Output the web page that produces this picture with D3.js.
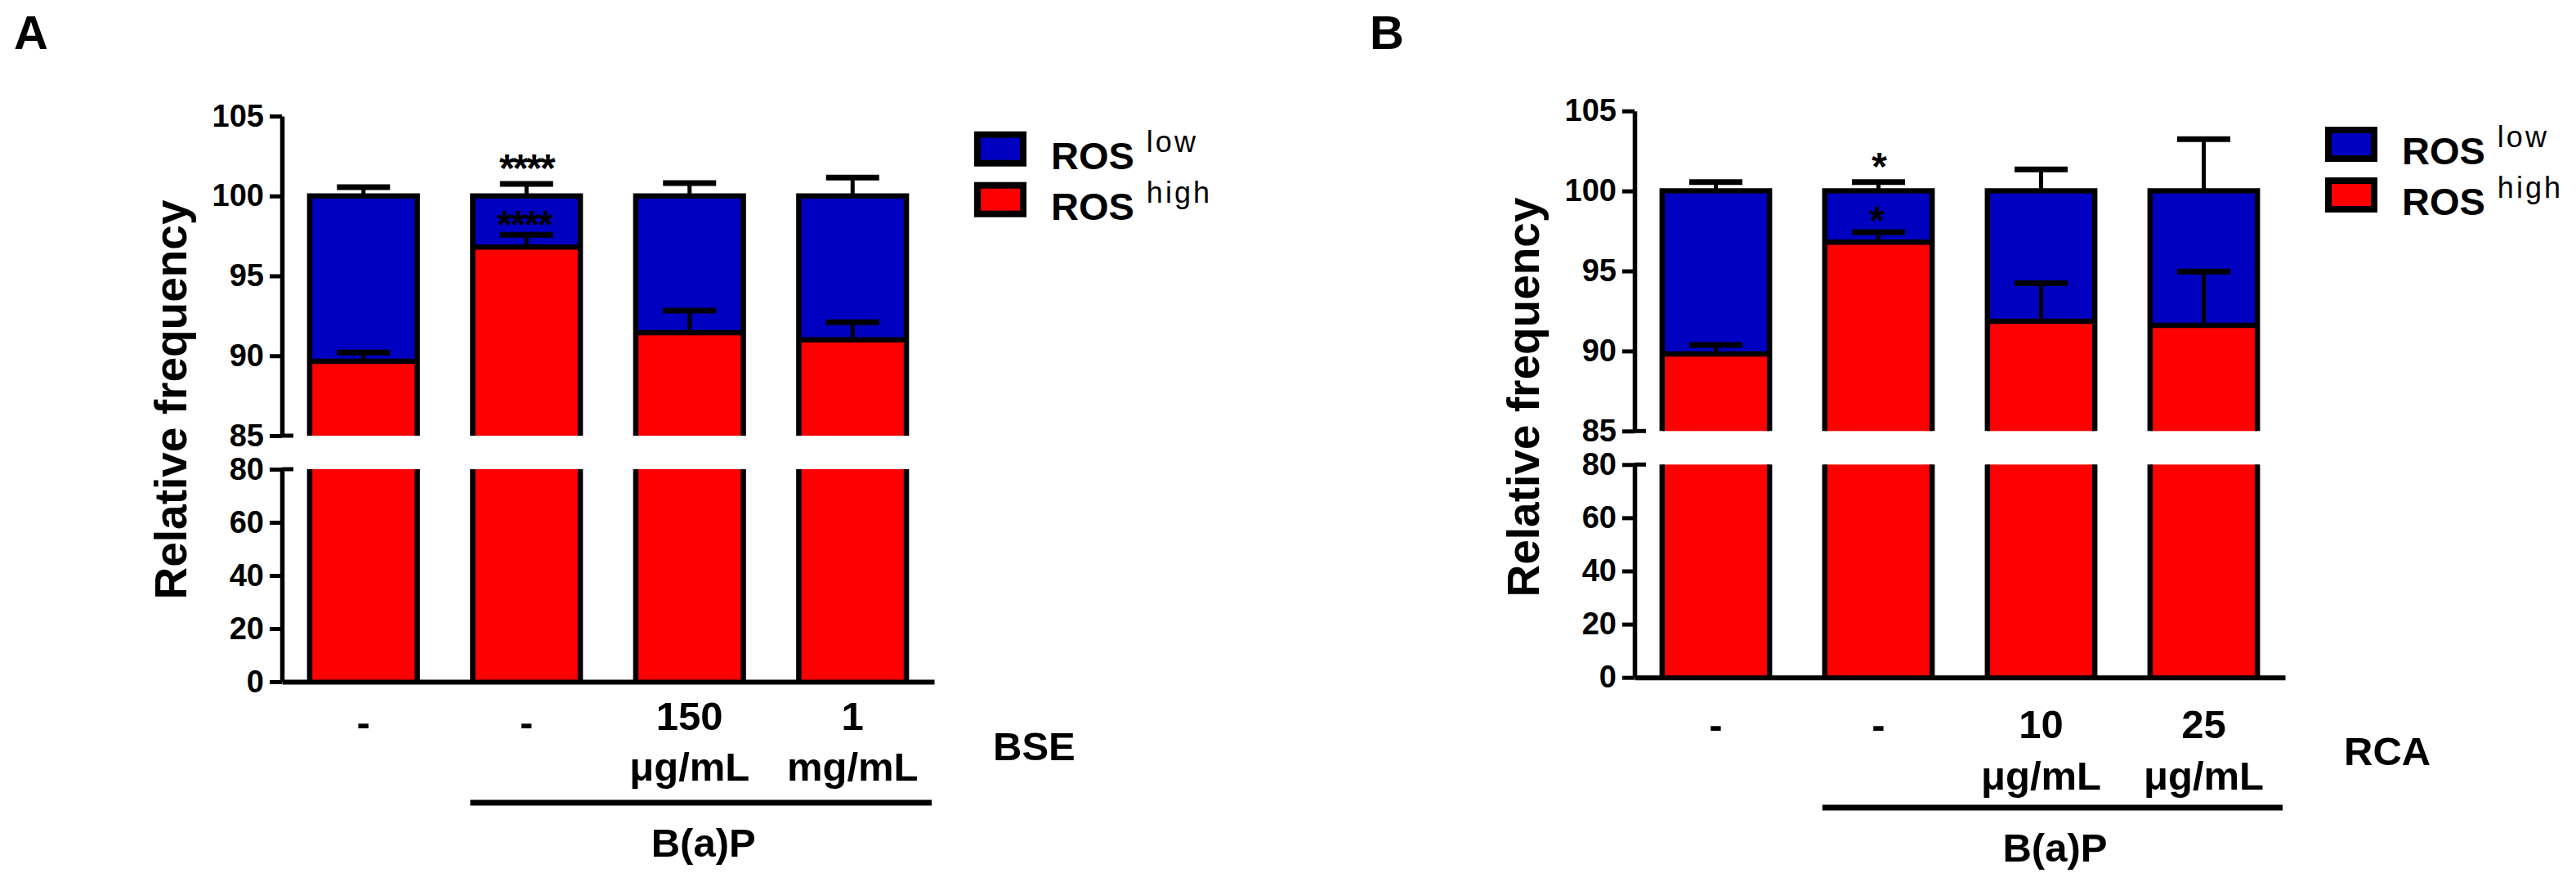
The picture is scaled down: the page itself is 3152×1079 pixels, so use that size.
<!DOCTYPE html>
<html>
<head>
<meta charset="utf-8">
<script src="https://cdn.jsdelivr.net/npm/d3@7"></script>
<style>
  body { margin: 0; background: #fff; }
  text { font-family: "Liberation Sans", Arial, sans-serif; font-weight: bold; fill: #000; }
</style>
</head>
<body>
<svg id="fig" width="3152" height="1079"></svg>
<script>
// Relative frequency (%) of ROS high / ROS low cells
const doseTopA = ["-", "-", "150", "1"]
const doseBottomA = ["", "", "μg/mL", "mg/mL"]
const rosHighA = [89.65, 96.8, 91.45, 91.0]
const rosHighErrA = [0.55, 0.77, 1.38, 1.1]
const rosLowErrA = [0.55, 0.75, 0.8, 1.15]
const starsAboveA = ["", "****", "", ""]
const starsInsideA = ["", "****", "", ""]

const doseTopB = ["-", "-", "10", "25"]
const doseBottomB = ["", "", "μg/mL", "μg/mL"]
const rosHighB = [89.82, 96.8, 91.86, 91.6]
const rosHighErrB = [0.56, 0.63, 2.38, 3.36]
const rosLowErrB = [0.55, 0.55, 1.34, 3.23]
const starsAboveB = ["", "*", "", ""]
const starsInsideB = ["", "*", "", ""]

const upperTicks = [85, 90, 95, 100, 105]
const lowerTicks = [0, 20, 40, 60, 80]
const seriesNames = ["low", "high"]
const seriesColours = ["#0000c0", "#ff0000"]

const svg = d3.select('#fig')

function styleAxis(sel) {
  sel.select('.domain').attr('stroke-width', 5.5)
  sel.selectAll('.tick line').attr('stroke-width', 5)
  sel.selectAll('.tick text')
    .attr('font-size', 38)
    .attr('font-family', '"Liberation Sans", Arial, sans-serif')
    .attr('font-weight', 'bold')
}

function drawPanel(p) {
  const g = svg.append('g')
  const idx = d3.range(p.high.length)

  const x = d3.scaleBand().domain(idx).range([p.left, p.right])
    .paddingInner(0.34).paddingOuter(0.17)
  const bw = x.bandwidth()
  const yUp = d3.scaleLinear().domain([85, 105]).range([p.breakTop, p.top])
  const yLo = d3.scaleLinear().domain([0, 80]).range([p.bottom, p.breakBottom])

  // bars - lower segment (0-80) is all ROS high
  g.selectAll('rect.lo').data(idx).join('rect')
    .attr('class', 'lo')
    .attr('x', i => x(i)).attr('width', bw)
    .attr('y', yLo(80)).attr('height', yLo(0) - yLo(80))
    .attr('fill', seriesColours[1])

  g.selectAll('rect.hi').data(idx).join('rect')
    .attr('class', 'hi')
    .attr('x', i => x(i)).attr('width', bw)
    .attr('y', i => yUp(p.high[i])).attr('height', i => yUp(85) - yUp(p.high[i]))
    .attr('fill', seriesColours[1])

  g.selectAll('rect.low').data(idx).join('rect')
    .attr('class', 'low')
    .attr('x', i => x(i)).attr('width', bw)
    .attr('y', yUp(100)).attr('height', i => yUp(p.high[i]) - yUp(100))
    .attr('fill', seriesColours[0])

  // outlines, open at the axis break
  g.selectAll('path.outline').data(idx).join('path')
    .attr('class', 'outline')
    .attr('fill', 'none').attr('stroke', '#000').attr('stroke-width', 6.5)
    .attr('d', i => {
      const x0 = x(i), x1 = x(i) + bw
      return `M${x0},${yLo(0)}V${yLo(80)}M${x1},${yLo(80)}V${yLo(0)}` +
        `M${x0},${yUp(85)}V${yUp(100)}H${x1}V${yUp(85)}` +
        `M${x0},${yUp(p.high[i])}H${x1}`
    })

  // error bars (SEM), drawn upward from each segment top
  const errs = idx.map(i => ({ i, v: p.high[i], e: p.highErr[i] }))
    .concat(idx.map(i => ({ i, v: 100, e: p.lowErr[i] })))
  g.selectAll('line.stem').data(errs).join('line')
    .attr('class', 'stem')
    .attr('x1', d => x(d.i) + bw / 2).attr('x2', d => x(d.i) + bw / 2)
    .attr('y1', d => yUp(d.v)).attr('y2', d => yUp(d.v + d.e))
    .attr('stroke', '#000').attr('stroke-width', 5)
  g.selectAll('line.cap').data(errs).join('line')
    .attr('class', 'cap')
    .attr('x1', d => x(d.i) + bw / 2 - 32.5).attr('x2', d => x(d.i) + bw / 2 + 32.5)
    .attr('y1', d => yUp(d.v + d.e)).attr('y2', d => yUp(d.v + d.e))
    .attr('stroke', '#000').attr('stroke-width', 7)

  // significance stars
  g.selectAll('text.above').data(idx.filter(i => p.above[i])).join('text')
    .attr('class', 'above')
    .attr('x', i => x(i) + bw / 2)
    .attr('y', i => yUp(100 + p.lowErr[i]) - 30 + 27)
    .attr('text-anchor', 'middle').attr('font-size', 48).attr('letter-spacing', -2)
    .text(i => p.above[i])
  g.selectAll('text.inside').data(idx.filter(i => p.inside[i])).join('text')
    .attr('class', 'inside')
    .attr('x', i => x(i) + bw / 2 - 3)
    .attr('y', i => (yUp(100) + yUp(p.high[i] + p.highErr[i])) / 2 + 27)
    .attr('text-anchor', 'middle').attr('font-size', 48).attr('letter-spacing', -2)
    .text(i => p.inside[i])

  // y axes, with break marks
  g.append('g').attr('transform', `translate(${p.left},0)`)
    .call(d3.axisLeft(yUp).tickValues(upperTicks).tickSize(15).tickSizeOuter(0).tickPadding(7))
    .call(styleAxis)
  g.append('g').attr('transform', `translate(${p.left},0)`)
    .call(d3.axisLeft(yLo).tickValues(lowerTicks).tickSize(15).tickSizeOuter(0).tickPadding(7))
    .call(styleAxis)
  g.selectAll('line.brk').data([yUp(85), yLo(80)]).join('line')
    .attr('class', 'brk')
    .attr('x1', p.left).attr('x2', p.left + 14)
    .attr('y1', d => d).attr('y2', d => d)
    .attr('stroke', '#000').attr('stroke-width', 5)

  // x axis
  g.append('g').attr('transform', `translate(0,${p.bottom})`)
    .call(d3.axisBottom(x).tickValues([]).tickSizeOuter(0))
    .select('.domain').attr('stroke-width', 6)

  g.append('text')
    .attr('transform', `translate(${p.left - 117},${p.labelMid}) rotate(-90)`)
    .attr('text-anchor', 'middle').attr('font-size', 55)
    .text('Relative frequency')

  // dose labels under bars
  g.selectAll('text.dose1').data(idx).join('text')
    .attr('class', 'dose1')
    .attr('x', i => x(i) + bw / 2)
    .attr('y', i => p.top1[i] == '-' ? p.dashY : p.line1Y)
    .attr('text-anchor', 'middle').attr('font-size', 49)
    .text(i => p.top1[i])
  g.selectAll('text.dose2').data(idx.filter(i => p.bottom2[i])).join('text')
    .attr('class', 'dose2')
    .attr('x', i => x(i) + bw / 2)
    .attr('y', p.line2Y)
    .attr('text-anchor', 'middle').attr('font-size', 49)
    .text(i => p.bottom2[i])

  g.append('text').attr('x', p.right + 72).attr('y', p.agentY)
    .attr('font-size', 49).text(p.agent)

  // B(a)P bracket
  g.append('line')
    .attr('x1', x(1) - 3).attr('x2', p.right - 3)
    .attr('y1', p.barY).attr('y2', p.barY)
    .attr('stroke', '#000').attr('stroke-width', 7)
  g.append('text')
    .attr('x', (x(1) + p.right) / 2).attr('y', p.bapY)
    .attr('text-anchor', 'middle').attr('font-size', 49)
    .text('B(a)P')

  // legend
  const leg = g.selectAll('g.leg').data(seriesNames).join('g')
    .attr('class', 'leg')
    .attr('transform', (d, i) => `translate(${p.legX},${p.legY + i * 62})`)
  leg.append('rect')
    .attr('x', 4).attr('y', 4).attr('width', 56).attr('height', 35)
    .attr('fill', (d, i) => seriesColours[i])
    .attr('stroke', '#000').attr('stroke-width', 8)
  const lt = leg.append('text')
    .attr('x', 94).attr('y', 46).attr('font-size', 47)
    .text('ROS')
  lt.append('tspan')
    .attr('dx', 15).attr('dy', -21)
    .attr('font-size', 36).attr('font-weight', 'normal').attr('letter-spacing', 3)
    .text(d => d)

  svg.append('text').attr('x', p.letterX).attr('y', 60)
    .attr('font-size', 58).text(p.letter)
}

drawPanel({
  letter: 'A', letterX: 17,
  high: rosHighA, highErr: rosHighErrA, lowErr: rosLowErrA,
  above: starsAboveA, inside: starsInsideA,
  top1: doseTopA, bottom2: doseBottomA, agent: 'BSE',
  left: 345, right: 1143, top: 142, breakTop: 533, breakBottom: 574, bottom: 834,
  labelMid: 489, dashY: 901, line1Y: 893, line2Y: 955, agentY: 930,
  barY: 982, bapY: 1048, legX: 1192, legY: 160.7
})

drawPanel({
  letter: 'B', letterX: 1676,
  high: rosHighB, highErr: rosHighErrB, lowErr: rosLowErrB,
  above: starsAboveB, inside: starsInsideB,
  top1: doseTopB, bottom2: doseBottomB, agent: 'RCA',
  left: 2000, right: 2796, top: 135.7, breakTop: 527.3, breakBottom: 568.3, bottom: 828.7,
  labelMid: 486, dashY: 904, line1Y: 903, line2Y: 966, agentY: 936,
  barY: 988, bapY: 1054, legX: 2845, legY: 155
})
</script>
</body>
</html>
